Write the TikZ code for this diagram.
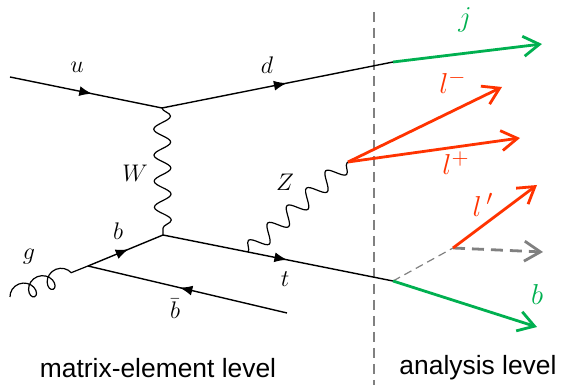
\documentclass[tikz,border=0pt]{standalone}
\usepackage{fontspec}
\setsansfont{Liberation Sans}
\usetikzlibrary{arrows.meta,decorations.pathmorphing,decorations.markings}
\definecolor{cgreen}{HTML}{00B050}
\definecolor{cred}{HTML}{FF3300}
\definecolor{cgray}{HTML}{808080}
\definecolor{cink}{HTML}{000000}

\begin{document}
\begin{tikzpicture}[x=0.5pt, y=-0.5pt, font=\fontsize{13}{15}\selectfont,
  fermion/.style={cink, line width=0.7pt, postaction={decorate},
    decoration={markings, mark=at position 0.54 with {\arrow{Latex[length=6.4pt,width=5pt]}}}},
  boson/.style={cink, line width=0.6pt, decorate,
    decoration={snake, amplitude=4.2pt, segment length=13pt}},
  gluon/.style={cink, line width=0.6pt, decorate,
    decoration={coil, amplitude=4.4pt, segment length=10pt, aspect=0.9}},
  jet/.style={line width=1.4pt, -{Straight Barb[length=8pt,width=10pt]}},
  biglabel/.style={font=\fontsize{15.5}{18}\selectfont}]
\useasboundingbox (0,0) rectangle (564,385);
%% ------------------------------------------------------------------ vertices
\coordinate (uin)    at (10,77);
\coordinate (v1)     at (162,108);
\coordinate (dsplit) at (393,62);
\coordinate (jend)   at (542,44);
\coordinate (v2)     at (163,235);
\coordinate (gbb)    at (88,266);
\coordinate (gin)    at (10,297);
\coordinate (bbend)  at (287,313);
\coordinate (zt)     at (248,252);
\coordinate (tsplit) at (393,281);
\coordinate (bend)   at (537,327);
\coordinate (zend)   at (348,162);
\coordinate (lmend)  at (502,87);
\coordinate (lpend)  at (520,138);
\coordinate (nu)     at (453,248);
\coordinate (lprend) at (537,185);
\coordinate (nuend)  at (543,252);
%% ------------------------------------------------------------------ split line
\coordinate (cuttop) at (374,12);
\coordinate (cutbot) at (374,385);
\draw[cgray, line width=0.6pt, dash pattern=on 5pt off 3pt] (cuttop) -- (cutbot);
%% ------------------------------------------------------------------ matrix element
\draw[fermion] (uin) -- (v1);
\draw[fermion] (v1) -- (dsplit);
\draw[boson] (v1) -- (v2);
\draw[gluon] (gin) -- (gbb);
\draw[fermion] (gbb) -- (v2);
\draw[fermion] (bbend) -- (gbb);
\draw[fermion] (v2) -- (tsplit);
\draw[boson] (zt) -- (zend);
%% ------------------------------------------------------------------ analysis objects
\draw[jet, cgreen] (dsplit) -- (jend);
\draw[jet, cred] (zend) -- (lmend);
\draw[jet, cred] (zend) -- (lpend);
\draw[cgray, line width=0.6pt, dash pattern=on 4pt off 2.5pt] (tsplit) -- (nu);
\draw[jet, cgray, dash pattern=on 6pt off 3.5pt] (nu) -- (nuend);
\draw[jet, cred] (nu) -- (lprend);
\draw[jet, cgreen] (tsplit) -- (bend);
%% ------------------------------------------------------------------ labels
\node (lu) at (77,67) {$u$};
\node (ld) at (267,65) {$d$};
\node (lW) at (135,173) {$W$};
\node (lZ) at (285,182) {$Z$};
\node (lb) at (118,231) {$b$};
\node (lg) at (29,257) {$g$};
\node (lt) at (285,279) {$t$};
\node (lbb) at (175,309) {$\bar{b}$};
\node[biglabel, cgreen] (lj) at (465,20) {$j$};
\node[biglabel, cred] (llm) at (453,82) {$l^{-}$};
\node[biglabel, cred] (llp) at (456,163) {$l^{+}$};
\node[biglabel, cred] (llpr) at (483,205) {$l\,'$};
\node[biglabel, cgreen] (lbj) at (537,295) {$b$};
\node[font=\sffamily\fontsize{13.2}{15}\selectfont] (me) at (158,368) {matrix-element level};
\node[font=\sffamily\fontsize{13.2}{15}\selectfont] (an) at (478,368) {analysis level};
\end{tikzpicture}
\end{document}
